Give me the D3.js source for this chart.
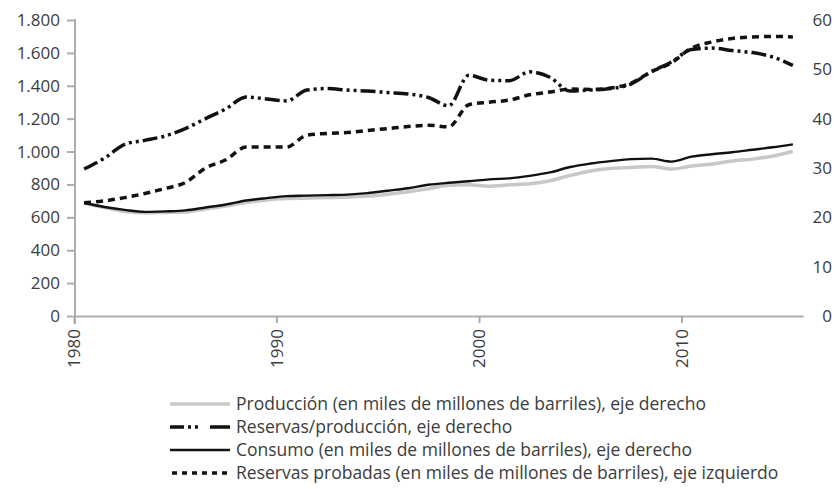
<!DOCTYPE html>
<html>
<head>
<meta charset="utf-8">
<script src="https://cdn.jsdelivr.net/npm/d3@7"></script>
<style>
  html, body { margin: 0; padding: 0; background: #fff; }
  svg { display: block; }
  text { font-family: "Open Sans", "Noto Sans", sans-serif; fill: #3c3c3c; }
</style>
</head>
<body>
<svg id="chart" width="836" height="489"></svg>
<script>
// ---------- DATA ----------
const years = d3.range(1980, 2016);
// Producción (miles de millones de barriles) – eje derecho
const produccion = [22.9, 22.0, 21.2, 20.9, 21.0, 21.1, 21.7, 22.3, 23.0, 23.5,
                    23.8, 23.9, 24.0, 24.1, 24.3, 24.7, 25.2, 25.8, 26.5, 26.6,
                    26.3, 26.6, 26.8, 27.4, 28.5, 29.4, 29.9, 30.1, 30.3, 29.8,
                    30.4, 30.8, 31.4, 31.8, 32.4, 33.4];
// Reservas/producción – eje derecho
const rp = [29.8, 32.0, 34.8, 35.6, 36.5, 38.0, 40.0, 42.0, 44.4, 44.0,
            43.6, 45.8, 46.1, 45.8, 45.6, 45.3, 45.0, 44.3, 42.6, 48.8,
            47.8, 47.7, 49.5, 48.4, 45.6, 45.8, 46.1, 47.0, 49.5, 51.5,
            54.0, 54.3, 53.8, 53.4, 52.5, 50.8];
// Consumo (miles de millones de barriles) – eje derecho
const consumo = [22.9, 22.1, 21.5, 21.1, 21.2, 21.4, 22.0, 22.6, 23.4, 23.9,
                 24.3, 24.4, 24.5, 24.6, 24.9, 25.4, 25.9, 26.6, 27.0, 27.3,
                 27.7, 27.9, 28.4, 29.1, 30.2, 30.9, 31.4, 31.8, 31.9, 31.3,
                 32.3, 32.8, 33.2, 33.7, 34.2, 34.8];
// Reservas probadas (miles de millones de barriles) – eje izquierdo
const reservas = [688, 700, 720, 745, 775, 812, 900, 950, 1027, 1027,
                  1027, 1100, 1110, 1116, 1128, 1140, 1152, 1160, 1150, 1285,
                  1300, 1313, 1345, 1362, 1380, 1378, 1386, 1416, 1485, 1540,
                  1630, 1666, 1688, 1697, 1700, 1697];

const leftTicks = [0, 200, 400, 600, 800, 1000, 1200, 1400, 1600, 1800];
const rightTicks = [0, 10, 20, 30, 40, 50, 60];
const xTicks = [1980, 1990, 2000, 2010];

const legendLabels = [
  "Producción (en miles de millones de barriles), eje derecho",
  "Reservas/producción, eje derecho",
  "Consumo (en miles de millones de barriles), eje derecho",
  "Reservas probadas (en miles de millones de barriles), eje izquierdo"
];

// ---------- LAYOUT ----------
const svg = d3.select("#chart");
const X0 = 74, X1 = 803, YB = 316, YT = 20;

const x = d3.scaleLinear().domain([1980, 2016]).range([X0, X1]);
const yL = d3.scaleLinear().domain([0, 1800]).range([YB, YT]);
const yR = d3.scaleLinear().domain([0, 60]).range([YB, YT]);

const loc = d3.formatLocale({decimal: ",", thousands: ".", grouping: [3], currency: ["", ""]});
const fmt = loc.format(",");

const axisColor = "#adadad";

// Left axis
const gL = svg.append("g").attr("transform", `translate(${X0 + 1},0)`)
  .call(d3.axisLeft(yL).tickValues(leftTicks).tickFormat(fmt).tickSize(8).tickPadding(7).tickSizeOuter(8));
gL.selectAll("path, line").attr("stroke", axisColor).attr("stroke-width", 2);
gL.selectAll("text").style("font-size", "17px").attr("fill", "#3c3c3c");
gL.select(".domain").remove();
gL.append("line").attr("x1", 0).attr("x2", 0).attr("y1", YT - 1).attr("y2", YB + 8)
  .attr("stroke", axisColor).attr("stroke-width", 2);

// Right axis labels (no axis line)
const gR = svg.append("g").attr("transform", `translate(832,0)`)
  .call(d3.axisRight(yR).tickValues(rightTicks).tickSize(0).tickPadding(0));
gR.select(".domain").remove();
gR.selectAll("text").attr("text-anchor", "end").attr("x", 0)
  .style("font-size", "17px").attr("fill", "#3c3c3c");

// X axis
const gX = svg.append("g").attr("transform", `translate(0,${YB})`)
  .call(d3.axisBottom(x).tickValues(xTicks).tickFormat(d3.format("d")).tickSize(7).tickSizeOuter(0));
gX.select(".domain").attr("stroke", axisColor).attr("stroke-width", 2);
gX.selectAll(".tick line").attr("stroke", axisColor).attr("stroke-width", 2);
gX.selectAll("text")
  .style("font-size", "17px").attr("fill", "#3c3c3c")
  .attr("transform", "rotate(-90)")
  .attr("text-anchor", "end")
  .attr("x", -13).attr("y", 0).attr("dy", "0.35em");

// ---------- LINES ----------
const curve = d3.curveMonotoneX;
const xp = i => x(years[i] + 0.5);
const lineR = arr => d3.line().curve(curve).x((d, i) => xp(i)).y(d => yR(d))(arr);
const lineL = arr => d3.line().curve(curve).x((d, i) => xp(i)).y(d => yL(d))(arr);

const styles = [
  {stroke: "#c8c8c8", width: 3.5, dash: null},
  {stroke: "#111", width: 3.5, dash: "15,4,3,4,3,4"},
  {stroke: "#111", width: 2.4, dash: null},
  {stroke: "#111", width: 3.5, dash: "7,5"}
];

const plot = svg.append("g");
plot.append("path").attr("d", lineR(produccion)).attr("fill", "none")
  .attr("stroke", styles[0].stroke).attr("stroke-width", styles[0].width);
plot.append("path").attr("d", lineR(consumo)).attr("fill", "none")
  .attr("stroke", styles[2].stroke).attr("stroke-width", styles[2].width);
plot.append("path").attr("d", lineL(reservas)).attr("fill", "none")
  .attr("stroke", styles[3].stroke).attr("stroke-width", styles[3].width)
  .attr("stroke-dasharray", styles[3].dash);
plot.append("path").attr("d", lineR(rp)).attr("fill", "none")
  .attr("stroke", styles[1].stroke).attr("stroke-width", styles[1].width)
  .attr("stroke-dasharray", styles[1].dash);

// ---------- LEGEND ----------
const legY = [404, 427, 450, 473];
const lg = svg.append("g");
legendLabels.forEach((lab, i) => {
  const s = styles[i];
  let dash = s.dash;
  if (i === 1) dash = "14,4,3,4,3,12,20";
  if (i === 3) dash = "5,5";
  lg.append("line").attr("x1", i === 3 ? 172 : 170).attr("x2", 230)
    .attr("y1", legY[i]).attr("y2", legY[i])
    .attr("stroke", s.stroke).attr("stroke-width", i === 2 ? 2.4 : 3.5)
    .attr("stroke-dasharray", dash);
  lg.append("text").attr("x", 236).attr("y", legY[i]).attr("dy", "0.35em")
    .style("font-size", "17.5px").text(lab);
});
</script>
</body>
</html>
